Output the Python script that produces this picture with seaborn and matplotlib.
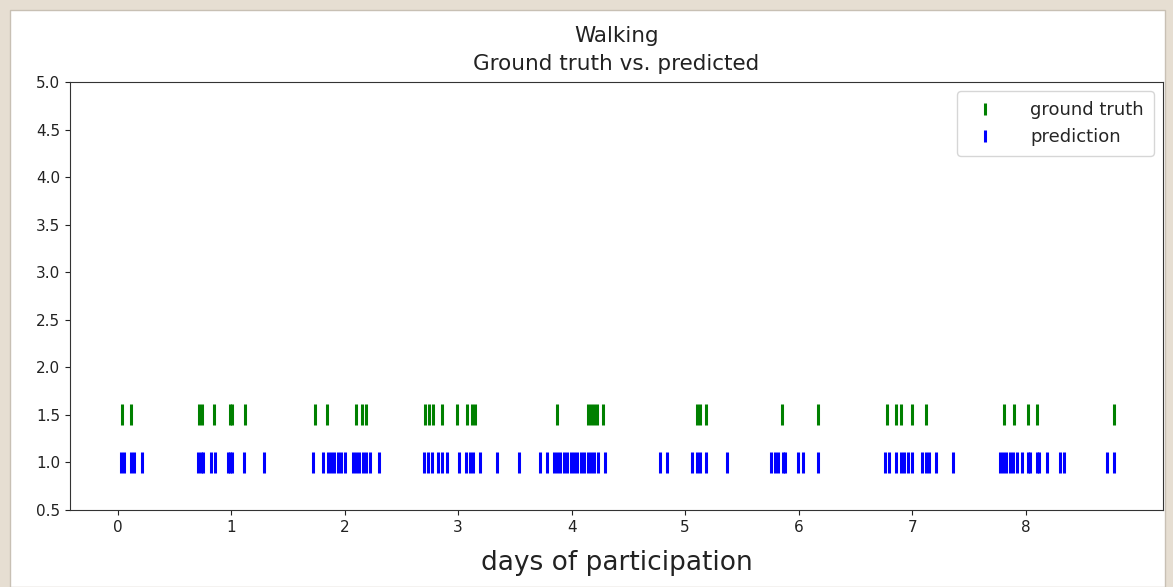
import matplotlib
matplotlib.use("Agg")
import matplotlib.pyplot as plt
import seaborn as sns
import pandas as pd
from matplotlib.patches import Rectangle

# ---- data (days of participation) ----
ground_truth_days = [0.04, 0.12, 0.72, 0.74, 0.85, 0.99, 1.01, 1.12, 1.74, 1.84,
                     2.10, 2.15, 2.19, 2.71, 2.74, 2.78, 2.86, 2.99, 3.08, 3.12,
                     3.15, 3.87, 4.14, 4.17, 4.20, 4.22, 4.28, 5.10, 5.13, 5.18,
                     5.85, 6.17, 6.78, 6.86, 6.90, 7.00, 7.12, 7.81, 7.90, 8.02,
                     8.10, 8.78]
prediction_days = [0.03, 0.06, 0.12, 0.14, 0.21, 0.71, 0.73, 0.75, 0.82, 0.86,
                   0.97, 0.99, 1.01, 1.11, 1.29, 1.72, 1.81, 1.85, 1.88, 1.91,
                   1.94, 1.97, 2.00, 2.07, 2.10, 2.13, 2.16, 2.19, 2.22, 2.30,
                   2.70, 2.73, 2.77, 2.82, 2.86, 2.90, 3.01, 3.07, 3.10, 3.13,
                   3.19, 3.34, 3.54, 3.72, 3.78, 3.84, 3.87, 3.90, 3.93, 3.96,
                   3.99, 4.02, 4.05, 4.08, 4.11, 4.14, 4.17, 4.20, 4.23, 4.29,
                   4.78, 4.84, 5.06, 5.10, 5.13, 5.18, 5.37, 5.76, 5.79, 5.82,
                   5.86, 5.88, 5.99, 6.04, 6.17, 6.76, 6.80, 6.86, 6.90, 6.93,
                   6.96, 7.00, 7.09, 7.12, 7.15, 7.21, 7.36, 7.77, 7.80, 7.83,
                   7.86, 7.89, 7.92, 7.97, 8.02, 8.04, 8.10, 8.12, 8.19, 8.30,
                   8.34, 8.72, 8.78]
ground_truth_level = 1.5
prediction_level = 1.0
series_labels = ["ground truth", "prediction"]
y_ticks = [0.5, 1.0, 1.5, 2.0, 2.5, 3.0, 3.5, 4.0, 4.5, 5.0]
x_ticks = [0, 1, 2, 3, 4, 5, 6, 7, 8]

df = pd.DataFrame({
    "day": ground_truth_days + prediction_days,
    "level": [ground_truth_level] * len(ground_truth_days) + [prediction_level] * len(prediction_days),
    "series": [series_labels[0]] * len(ground_truth_days) + [series_labels[1]] * len(prediction_days),
})

sns.set_style("ticks")
plt.rcParams["font.family"] = ["DejaVu Sans"]

fig = plt.figure(figsize=(11.73, 5.87), dpi=100)
fig.patch.set_facecolor("#e6ded2")
bg = Rectangle((10 / 1173, 0), 1 - 18 / 1173, 1 - 10 / 587,
               transform=fig.transFigure, facecolor="white",
               edgecolor="#c8c0b4", linewidth=1, zorder=-10)
fig.add_artist(bg)
ax = fig.add_axes([70 / 1173, 1 - 510 / 587, (1163 - 70) / 1173, (510 - 82) / 587])
ax.set_zorder(5)

sns.scatterplot(data=df, x="day", y="level", hue="series",
                palette={series_labels[0]: "green", series_labels[1]: "blue"},
                marker="|", s=230, linewidth=2.2, ax=ax, legend=True)

ax.set_ylim(0.5, 5.0)
ax.set_yticks(y_ticks)
ax.set_xticks(x_ticks)
ax.set_xlim(-0.42, 9.21)
ax.tick_params(labelsize=11, colors="#222222")
for s in ax.spines.values():
    s.set_color("#333333")
ax.set_ylabel("")
ax.set_xlabel("days of participation", fontsize=19, color="#222222", labelpad=11)
ax.set_title("Walking\nGround truth vs. predicted", fontsize=15.5, color="#222222",
             pad=9, linespacing=1.45)

leg = ax.legend(loc="upper right", fontsize=13, markerscale=0.55,
                handletextpad=1.5, borderpad=0.55, labelspacing=0.5)
leg.get_frame().set_edgecolor("#cccccc")

fig.savefig("out.png", dpi=100, facecolor=fig.get_facecolor())
